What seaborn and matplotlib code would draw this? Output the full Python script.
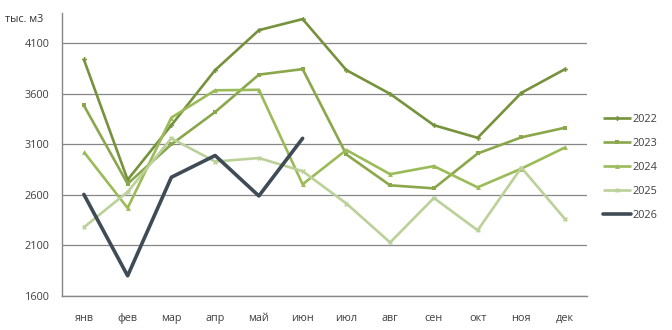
import matplotlib
matplotlib.use("Agg")
import matplotlib.pyplot as plt
import seaborn as sns
import pandas as pd
import numpy as np

months = ["янв", "фев", "мар", "апр", "май", "июн", "июл", "авг", "сен", "окт", "ноя", "дек"]
y2022 = [3940, 2750, 3290, 3835, 4230, 4340, 3835, 3600, 3290, 3165, 3610, 3845]
y2023 = [3485, 2710, 3100, 3420, 3790, 3845, 3000, 2695, 2665, 3010, 3170, 3265]
y2024 = [3025, 2470, 3365, 3635, 3640, 2705, 3045, 2805, 2885, 2675, 2860, 3070]
y2025 = [2280, 2630, 3160, 2930, 2965, 2835, 2515, 2130, 2570, 2250, 2870, 2360]
y2026 = [2605, 1800, 2775, 2990, 2590, 3160]
series = {"2022": y2022, "2023": y2023, "2024": y2024, "2025": y2025, "2026": y2026}
y_ticks = [1600, 2100, 2600, 3100, 3600, 4100]
unit_label = "тыс. м3"

rows = []
for name, vals in series.items():
    for i, v in enumerate(vals):
        rows.append({"month": i, "value": v, "year": name})
df = pd.DataFrame(rows)

sns.set_theme(style="white")
plt.rcParams["font.family"] = ["Open Sans", "DejaVu Sans"]

palette = {"2022": "#76923C", "2023": "#8AA74B", "2024": "#9BBB59",
           "2025": "#BBD199", "2026": "#3F4B55"}
markers = {"2022": "P", "2023": "s", "2024": "^", "2025": "X", "2026": ""}

fig = plt.figure(figsize=(6.72, 3.30), dpi=100)
ax = fig.add_axes([62/672, 1-296/330, (587-62)/672, (296-13)/330])

for name in series:
    sub = df[df.year == name]
    sns.lineplot(data=sub, x="month", y="value", ax=ax, color=palette[name],
                 lw=2.6 if name == "2026" else 1.9,
                 marker=markers[name] if markers[name] else None,
                 markersize=3.5, markeredgewidth=0, label=name,
                 solid_capstyle="round" if name == "2026" else "butt")

ax.set_xlim(-0.5, 11.5)
ax.set_ylim(1600, 4400)
ax.set_yticks(y_ticks)
ax.set_yticklabels([str(t) for t in y_ticks], fontsize=7.8, color="#404040")
ax.set_xticks(range(12))
ax.set_xticklabels(months, fontsize=7.8, color="#404040")
ax.set_xticks(np.arange(-0.5, 12, 1), minor=True)
ax.tick_params(axis="x", which="major", length=0, pad=12)
ax.tick_params(axis="x", which="minor", length=5, color="#868686", width=1, direction="out")
ax.tick_params(axis="y", length=0, pad=9)
ax.set_xlabel("")
ax.set_ylabel("")
ax.grid(axis="y", color="#868686", lw=0.9)
ax.set_axisbelow(True)
for s in ["top", "right"]:
    ax.spines[s].set_visible(False)
for s in ["left", "bottom"]:
    ax.spines[s].set_color("#868686")
    ax.spines[s].set_linewidth(1)

fig.text(5/672, 1-20/330, unit_label, fontsize=7.8, color="#333333", va="center")

leg = ax.legend(loc="upper left", bbox_to_anchor=(603/672, 1-114/330),
                bbox_transform=fig.transFigure, frameon=False, borderpad=0,
                borderaxespad=0, fontsize=7.8, handlelength=2.6,
                handletextpad=0.15, labelspacing=1.2)
for t in leg.get_texts():
    t.set_color("#404040")

fig.savefig("out.png", dpi=100)
